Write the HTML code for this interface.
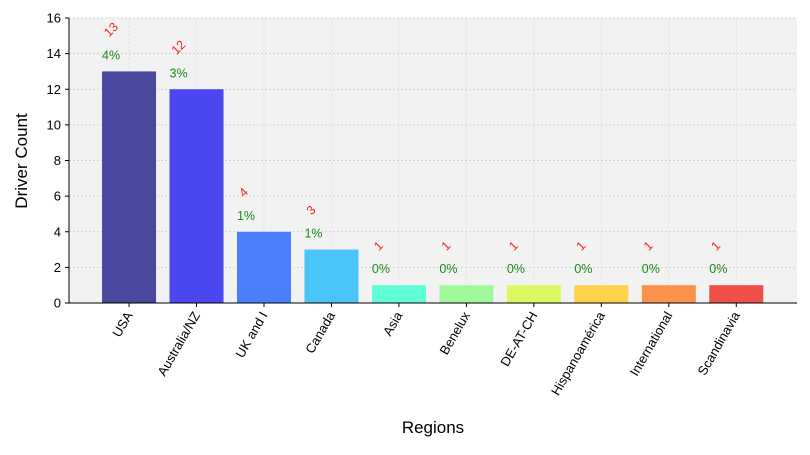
<!DOCTYPE html>
<html><head><meta charset="utf-8"><style>
body{margin:0;background:#fff;font-family:"Liberation Sans","DejaVu Sans",sans-serif}
</style></head><body>
<svg width="810" height="450" xmlns="http://www.w3.org/2000/svg" id="chart">
</svg>
<script>
const categories=["USA","Australia/NZ","UK and I","Canada","Asia","Benelux","DE-AT-CH","Hispanoamérica","International","Scandinavia"];
const counts=[13,12,4,3,1,1,1,1,1,1];
const percents=["4%","3%","1%","1%","0%","0%","0%","0%","0%","0%"];
const colors=["#48489e","#4a47f0","#4a7fff","#4bc4fa","#60fcd8","#9ff99a","#d9f861","#fcd24a","#fc914a","#f05048"];
const yTicks=[0,2,4,6,8,10,12,14,16];
const NS="http://www.w3.org/2000/svg";
const svg=document.getElementById('chart');
const L=69,R=797,T=18,B=303,yMax=16;
const xMin=-0.89,xMax=9.9;
const xs=i=>L+(i-xMin)/(xMax-xMin)*(R-L);
const ys=v=>B-v/yMax*(B-T);
const bw=54;
function mk(t,a){const e=document.createElementNS(NS,t);for(const k in a)e.setAttribute(k,a[k]);svg.appendChild(e);return e;}
const bg=mk('rect',{x:L,y:T,width:R-L,height:B-T,fill:'#f2f2f2'});


yTicks.forEach(v=>{
 const g=mk('line',{x1:L,x2:R,y1:ys(v),y2:ys(v),stroke:'#c8c8c8','stroke-dasharray':'2,2','stroke-width':0.8});
 
 
 mk('line',{x1:L-4,x2:L,y1:ys(v),y2:ys(v),stroke:'#000'});
 const t=mk('text',{x:L-8,y:ys(v)+4.5,'text-anchor':'end','font-size':13,fill:'#000'});
 t.textContent=v;
 
 
});
categories.forEach((c,i)=>{
 const x=xs(i);
 const g=mk('line',{x1:x,x2:x,y1:T,y2:B,stroke:'#dcdcdc','stroke-dasharray':'2,2','stroke-width':0.8});
 
 
});
categories.forEach((c,i)=>{
 const x=xs(i),top=ys(counts[i]);
 const r=mk('rect',{x:x-bw/2,y:top,width:bw,height:B-top,fill:colors[i]});
 
 
 const p=mk('text',{x:x-bw/2,y:top-12,'font-size':12.5,fill:'#1a8a1a'});
 p.textContent=percents[i];
 
 
 const n=mk('text',{x:0,y:0,'font-size':12.5,fill:'#ff2020',transform:`translate(${x-bw/2+7},${top-34}) rotate(-45)`});
 n.textContent=counts[i];
 
 
 mk('line',{x1:x,x2:x,y1:B,y2:B+4,stroke:'#000'});
 const t=mk('text',{x:0,y:0,'font-size':13,fill:'#000','text-anchor':'end',transform:`translate(${x+4},${B+12}) rotate(-60)`});
 t.textContent=c;
 
 
});
mk('line',{x1:L,x2:L,y1:T,y2:B,stroke:'#000','stroke-width':1});
mk('line',{x1:L,x2:R,y1:B,y2:B,stroke:'#000','stroke-width':1});
const xt=mk('text',{x:433,y:433,'text-anchor':'middle','font-size':17,fill:'#000'});
xt.textContent='Regions';


const yt=mk('text',{x:0,y:0,'text-anchor':'middle','font-size':17,fill:'#000',transform:'translate(27,161) rotate(-90)'});
yt.textContent='Driver Count';


</script>
</body></html>
